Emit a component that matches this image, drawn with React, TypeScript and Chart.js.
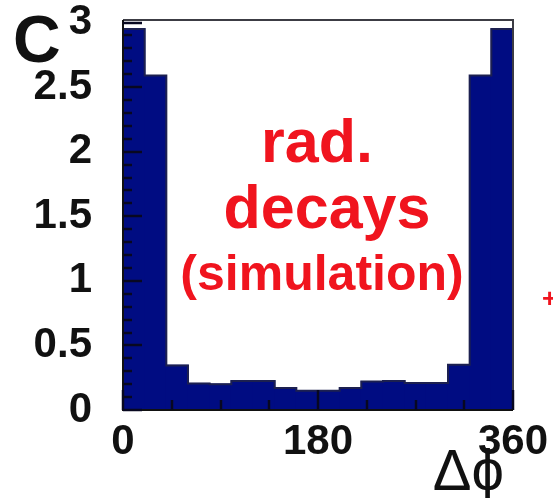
import React, { useEffect, useRef } from "react";
import { Chart, registerables } from "chart.js";

Chart.register(...registerables);

// bin centres (degrees), 20-degree bins from 0 to 360
const binCenters = [10, 30, 50, 70, 90, 110, 130, 150, 170, 190, 210, 230, 250, 270, 290, 310, 330, 350];
const binValues = [2.95, 2.59, 0.345, 0.205, 0.2, 0.225, 0.225, 0.17, 0.15, 0.15, 0.17, 0.22, 0.225, 0.21, 0.21, 0.35, 2.59, 2.95];
const xTickValues = [0, 180, 360];
const xMinorTicks = [0, 45, 90, 135, 180, 225, 270, 315, 360];
const yTickLabels = ["0", "0.5", "1", "1.5", "2", "2.5", "3"];
const annotationLines = ["rad.", "decays", "(simulation)"];

const FONT = "'Liberation Sans', Arial, Helvetica, sans-serif";

export default function App() {
  const ref = useRef<HTMLCanvasElement | null>(null);

  useEffect(() => {
    const canvas = ref.current;
    if (!canvas) return;

    const decor = {
      id: "decor",
      afterDatasetsDraw(chart: any) {
        const { ctx, chartArea } = chart;
        const xs = chart.scales.x;
        const ys = chart.scales.y;
        const { left, right, top, bottom } = chartArea;
        ctx.save();
        // histogram outline (step line on top of bars)
        ctx.strokeStyle = "#1c2050";
        ctx.lineWidth = 2;
        ctx.beginPath();
        binCenters.forEach((c, i) => {
          const x0 = xs.getPixelForValue(c - 10);
          const x1 = xs.getPixelForValue(c + 10);
          const py = ys.getPixelForValue(binValues[i]);
          if (i === 0) ctx.moveTo(x0, py);
          else ctx.lineTo(x0, py);
          ctx.lineTo(x1, py);
        });
        ctx.stroke();
        // frame
        ctx.lineWidth = 2;
        ctx.strokeStyle = "#3c3c44";
        ctx.beginPath();
        ctx.moveTo(left, top);
        ctx.lineTo(right, top);
        ctx.lineTo(right, bottom);
        ctx.stroke();
        ctx.strokeStyle = "#111";
        ctx.beginPath();
        ctx.moveTo(left, top);
        ctx.lineTo(left, bottom);
        ctx.lineTo(right, bottom);
        ctx.stroke();
        // y ticks (inside)
        ctx.strokeStyle = "#080820";
        ctx.lineWidth = 2.5;
        for (let i = 0; i <= 30; i++) {
          const v = i / 10;
          const py = Math.round(ys.getPixelForValue(v));
          const len = i % 5 === 0 ? 19 : 9;
          ctx.beginPath();
          ctx.moveTo(left, py);
          ctx.lineTo(left + len, py);
          ctx.stroke();
        }
        // x ticks (inside)
        for (const v of xMinorTicks) {
          const px = Math.round(xs.getPixelForValue(v));
          const len = v % 180 === 0 ? 20 : 10;
          ctx.beginPath();
          ctx.moveTo(px, bottom);
          ctx.lineTo(px, bottom - len);
          ctx.stroke();
        }
        // annotation text
        ctx.fillStyle = "#f0141e";
        ctx.textAlign = "center";
        ctx.textBaseline = "alphabetic";
        const cx = (left + right) / 2;
        ctx.font = `bold 61px ${FONT}`;
        ctx.fillText(annotationLines[0], cx - 1, ys.getPixelForValue(1.92));
        ctx.fillText(annotationLines[1], cx + 9, ys.getPixelForValue(1.41));
        ctx.font = `bold 50px ${FONT}`;
        ctx.fillText(annotationLines[2], cx + 4, ys.getPixelForValue(0.93));
        // stray red mark at right edge
        ctx.font = `bold 26px ${FONT}`;
        ctx.textAlign = "left";
        ctx.textBaseline = "middle";
        ctx.fillText("+", 542, ys.getPixelForValue(0.85));
        // axis titles
        ctx.fillStyle = "#111";
        ctx.font = `bold 66px ${FONT}`;
        ctx.textAlign = "left";
        ctx.textBaseline = "alphabetic";
        ctx.fillText("C", 13, 62);
        ctx.font = `58px ${FONT}`;
        ctx.textAlign = "right";
        ctx.fillText("Δϕ", 504, 490);
        ctx.restore();
      },
    };

    const chart = new Chart(canvas, {
      type: "bar",
      data: {
        datasets: [
          {
            data: binCenters.map((x, i) => ({ x, y: binValues[i] })),
            backgroundColor: "#000c82",
            borderWidth: 0,
            barPercentage: 1,
            categoryPercentage: 1,
            inflateAmount: 0.6,
          },
        ],
      },
      options: {
        animation: false,
        responsive: false,
        layout: { padding: { left: 0, top: 20, right: 40, bottom: 0 } },
        plugins: { legend: { display: false }, tooltip: { enabled: false } },
        scales: {
          x: {
            type: "linear",
            min: 0,
            max: 360,
            offset: false,
            grid: { display: false, drawTicks: false },
            border: { display: false },
            afterBuildTicks: (s: any) => {
              s.ticks = xTickValues.map((v) => ({ value: v }));
            },
            ticks: {
              autoSkip: false,
              maxRotation: 0,
              padding: 7,
              color: "#111",
              font: { family: FONT, size: 42, weight: "bold" },
              callback: (v: any) => String(v),
            },
            afterFit: (s: any) => {
              s.height = 88;
              s.paddingLeft = 0;
              s.paddingRight = 0;
            },
          },
          y: {
            type: "linear",
            min: 0,
            max: 3.02,
            grid: { display: false, drawTicks: false },
            border: { display: false },
            ticks: {
              stepSize: 0.5,
              includeBounds: false,
              padding: 31,
              color: "#111",
              font: { family: FONT, size: 42, weight: "bold" },
              callback: (v: any) => {
                const idx = Math.round(Number(v) * 2);
                return yTickLabels[idx] ?? "";
              },
            },
            afterFit: (s: any) => {
              s.width = 123;
              s.paddingTop = 0;
              s.paddingBottom = 0;
            },
          },
        },
      },
      plugins: [decor],
    } as any);

    return () => chart.destroy();
  }, []);

  return (
    <div style={{ position: "absolute", left: 0, top: 0, width: 553, height: 498, background: "#fff" }}>
      <canvas ref={ref} width={553} height={498} style={{ display: "block" }} />
    </div>
  );
}
